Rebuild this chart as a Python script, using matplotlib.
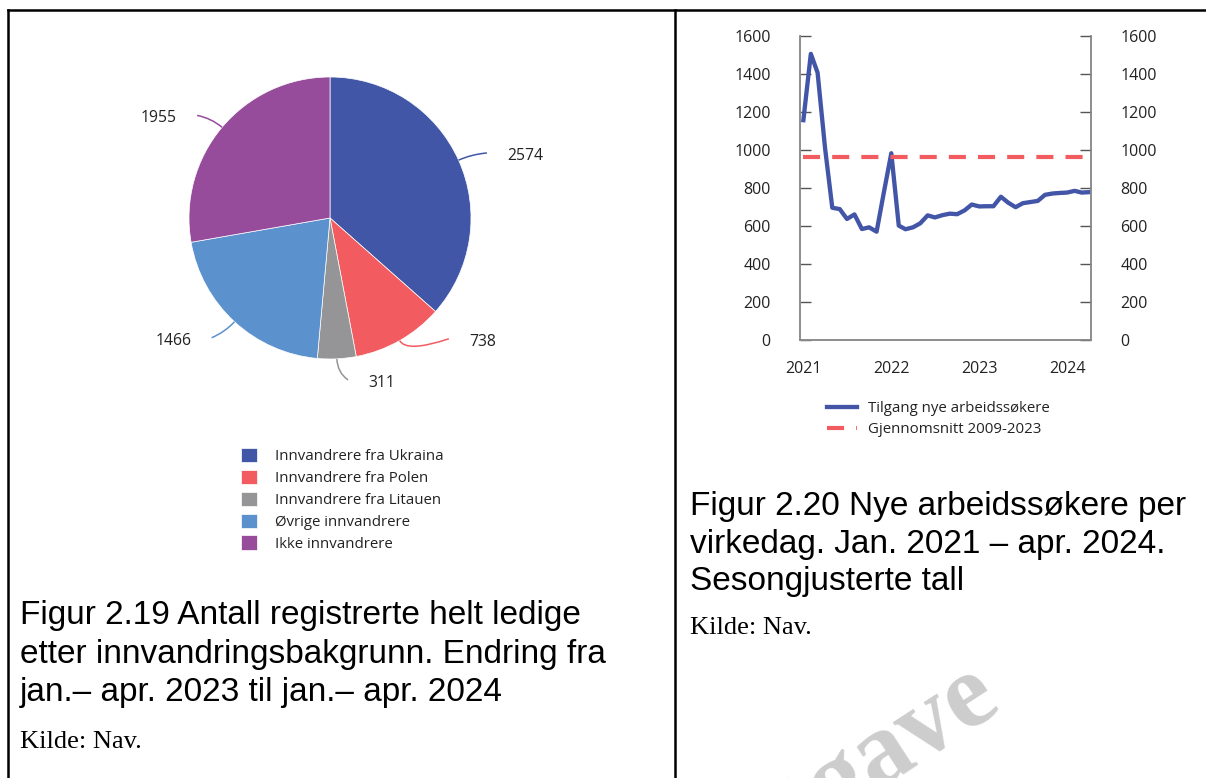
import numpy as np
import pandas as pd
import matplotlib
matplotlib.use('Agg')
from matplotlib import pyplot as plt
from matplotlib.path import Path
from matplotlib.patches import PathPatch
from matplotlib.lines import Line2D

# --- data: pie (figur 2.19) ---
kategorier = ['Innvandrere fra Ukraina', 'Innvandrere fra Polen', 'Innvandrere fra Litauen',
              'Øvrige innvandrere', 'Ikke innvandrere']
endring = [2574, 738, 311, 1466, 1955]
farger = ['#4156A6', '#F25C60', '#959496', '#5B92CE', '#964B9B']

# --- data: line chart (figur 2.20) ---
maaneder = pd.date_range('2021-01-01', periods=40, freq='MS')
tilgang = [1157, 1506, 1407, 1010, 696, 689, 637, 661, 584, 593, 570, 776,
           983, 602, 583, 593, 614, 656, 645, 657, 665, 662, 682, 713,
           703, 704, 704, 754, 723, 699, 720, 726, 732, 764, 771, 774,
           776, 785, 776, 778]
snitt = 965
aar = [2021, 2022, 2023, 2024]
yticks = [0, 200, 400, 600, 800, 1000, 1200, 1400, 1600]

blue = '#4255A7'
red = '#F25C60'
txt = '#222222'
W, H = 1206, 778


def fx(px):
    return px / W


def fy(py):
    return 1 - py / H


plt.rcParams['font.family'] = ['Open Sans', 'DejaVu Sans']
fig = plt.figure(figsize=(W / 100, H / 100), dpi=100)

# watermark (partly outside the page, as in the source)
fig.text(fx(1004), fy(708), 'utgave', rotation=33, rotation_mode='anchor',
         ha='right', va='baseline', fontsize=76, fontweight='bold',
         family='Liberation Serif', color='#cdcdcd', zorder=0)

# frame lines
for xs, ys in [((fx(7.5), 1), (fy(9.5), fy(9.5))),
               ((fx(7.5), fx(7.5)), (0, fy(9.5))),
               ((fx(675), fx(675)), (0, fy(9.5)))]:
    fig.add_artist(Line2D(xs, ys, color='black', lw=1.8))

# ---------------- pie ----------------
cx, cy, r = 330, 218, 141
box = (20, 30, 640, 420)
ax1 = fig.add_axes([fx(box[0]), fy(box[3]), fx(box[2]) - fx(box[0]), fy(box[1]) - fy(box[3])])
wedges, _ = ax1.pie(endring, colors=farger, startangle=90, counterclock=False, radius=1,
                    wedgeprops=dict(edgecolor='white', linewidth=0.5))
ax1.set_aspect('auto')
ax1.set_xlim((box[0] - cx) / r, (box[2] - cx) / r)
ax1.set_ylim((cy - box[3]) / r, (cy - box[1]) / r)
ax1.axis('off')

# connector tweaks (layout only)
conn_len = [0.11, 0.30, 0.075, 0.095, 0.10]
conn_dy = [0.01, 0.10, -0.05, -0.04, 0.02]
for w, val, col, h, dy in zip(wedges, endring, farger, conn_len, conn_dy):
    th = np.deg2rad((w.theta1 + w.theta2) / 2)
    c, s = np.cos(th), np.sin(th)
    side = 1 if c >= 0 else -1
    rim = (c, s)
    ctrl = (1.10 * c, 1.10 * s)
    end = (ctrl[0] + side * h, ctrl[1] + dy)
    path = Path([rim, ctrl, end], [Path.MOVETO, Path.CURVE3, Path.CURVE3])
    ax1.add_patch(PathPatch(path, fill=False, edgecolor=col, lw=1.1))
    ax1.text(end[0] + side * 0.145, end[1] - 0.02, str(val), fontsize=11.3, color=txt,
             ha='left' if side > 0 else 'right', va='center')

fig.legend(wedges, kategorier, loc='upper left', bbox_to_anchor=(fx(241), fy(448)),
           frameon=False, fontsize=10.8, handlelength=1.07, handleheight=1.07,
           handletextpad=1.2, labelspacing=0.38, borderpad=0, borderaxespad=0,
           labelcolor=txt)

# ---------------- line chart ----------------
ax2 = fig.add_axes([fx(800), fy(340), fx(1091) - fx(800), fy(36) - fy(340)])
l1, = ax2.plot(maaneder, tilgang, color=blue, lw=3.1, solid_joinstyle='round',
               label='Tilgang nye arbeidssøkere')
l2, = ax2.plot([maaneder[0], maaneder[-1]], [snitt, snitt], color=red, lw=3.0,
               dashes=(4.1, 2.9), label='Gjennomsnitt 2009-2023')
ax2.set_xlim(pd.Timestamp('2020-12-18'), pd.Timestamp('2024-04-09'))
ax2.set_ylim(0, 1600)
ax2.set_xticks([pd.Timestamp(f'{y}-01-01') for y in aar])
ax2.set_xticklabels([str(y) for y in aar])
ax2.set_yticks(yticks)
ax2.tick_params(axis='x', length=0, pad=15, labelsize=11.5, labelcolor=txt)
ax2.tick_params(axis='y', direction='in', length=8, width=1, color='#555555',
                pad=21, labelsize=11.5, labelcolor=txt)
ax3 = ax2.twinx()
ax3.set_ylim(0, 1600)
ax3.set_yticks(yticks)
ax3.tick_params(axis='y', direction='in', length=8, width=1, color='#555555',
                pad=21, labelsize=11.5, labelcolor=txt)
for a in (ax2, ax3):
    a.spines['top'].set_visible(False)
    for sp in ('left', 'right', 'bottom'):
        a.spines[sp].set_color('#8a8a8a')
        a.spines[sp].set_linewidth(1.1)

fig.legend([l1, l2], [l1.get_label(), l2.get_label()], loc='upper left',
           bbox_to_anchor=(fx(827), fy(401)), frameon=False, fontsize=10.8,
           handlelength=2.0, handletextpad=0.75, labelspacing=0.4,
           borderpad=0, borderaxespad=0, labelcolor=txt)

# ---------------- captions ----------------
cap1 = ['Figur 2.19 Antall registrerte helt ledige',
        'etter innvandringsbakgrunn. Endring fra',
        'jan.– apr. 2023 til jan.– apr. 2024']
cap2 = ['Figur 2.20 Nye arbeidssøkere per',
        'virkedag. Jan. 2021 – apr. 2024.',
        'Sesongjusterte tall']
for k, line in enumerate(cap1):
    fig.text(fx(20), fy(624 + 38.5 * k), line, fontsize=24, family='Liberation Sans',
             va='baseline', color='black')
for k, line in enumerate(cap2):
    fig.text(fx(690), fy(515 + 37.5 * k), line, fontsize=24, family='Liberation Sans',
             va='baseline', color='black')
fig.text(fx(20), fy(748), 'Kilde: Nav.', fontsize=19, family='Liberation Serif',
         va='baseline', color='black')
fig.text(fx(690), fy(634), 'Kilde: Nav.', fontsize=19, family='Liberation Serif',
         va='baseline', color='black')

plt.savefig('out.png', dpi=100)
